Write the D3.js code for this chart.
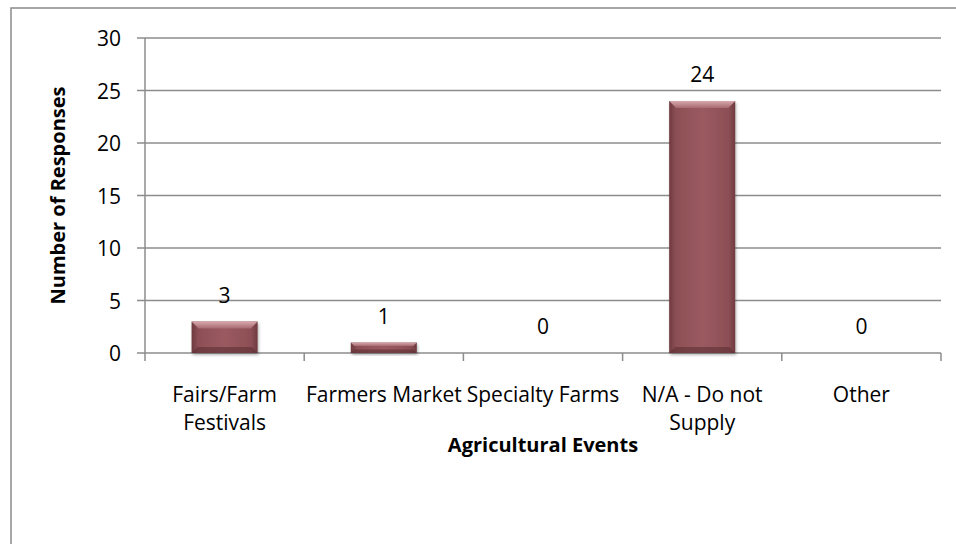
<!DOCTYPE html>
<html>
<head>
<meta charset="utf-8">
<script src="https://cdn.jsdelivr.net/npm/d3@7"></script>
<style>
  body { margin: 0; background: #fff; }
  svg { display: block; font-family: "Open Sans", sans-serif; }
</style>
</head>
<body>
<div id="container"></div>
<script>
/* DATA */
const categories = ["Fairs/Farm Festivals", "Farmers Market", "Specialty Farms", "N/A - Do not Supply", "Other"];
const labelLines = [["Fairs/Farm", "Festivals"], ["Farmers Market"], ["Specialty Farms"], ["N/A - Do not", "Supply"], ["Other"]];
const responses = [3, 1, 0, 24, 0];
const yTicks = [0, 5, 10, 15, 20, 25, 30];

/* CONSTANTS */
const width = 956, height = 544,
  margin = { top: 38, bottom: 191, left: 145, right: 15 };

const svg = d3.select("#container")
  .append("svg")
  .attr("width", width)
  .attr("height", height);

// outer chart frame (runs off the right / bottom edge)
svg.append("rect")
  .attr("x", 11).attr("y", 8)
  .attr("width", 960).attr("height", 560)
  .attr("fill", "none")
  .attr("stroke", "#8a8a8a")
  .attr("stroke-width", 1.5);

// SCALES
const x = d3.scaleBand()
  .domain(categories)
  .range([margin.left, width - margin.right])
  .paddingInner(0.585)
  .paddingOuter(0.2925);

const y = d3.scaleLinear()
  .domain([0, 30])
  .range([height - margin.bottom, margin.top]);

// gradients for the bevelled bars
const defs = svg.append("defs");
const body = defs.append("linearGradient").attr("id", "barBody")
  .attr("x1", 0).attr("x2", 1).attr("y1", 0).attr("y2", 0);
body.append("stop").attr("offset", "0%").attr("stop-color", "#6e3a3f");
body.append("stop").attr("offset", "10%").attr("stop-color", "#8c4f55");
body.append("stop").attr("offset", "50%").attr("stop-color", "#9b5a60");
body.append("stop").attr("offset", "90%").attr("stop-color", "#8c4f55");
body.append("stop").attr("offset", "100%").attr("stop-color", "#6e3a3f");

const topBevel = defs.append("linearGradient").attr("id", "topBevel")
  .attr("x1", 0).attr("x2", 0).attr("y1", 0).attr("y2", 1);
topBevel.append("stop").attr("offset", "0%").attr("stop-color", "#d6a8ac");
topBevel.append("stop").attr("offset", "100%").attr("stop-color", "#a86a70");

const shadow = defs.append("filter").attr("id", "shadow")
  .attr("x", "-20%").attr("y", "-20%").attr("width", "140%").attr("height", "140%");
shadow.append("feDropShadow")
  .attr("dx", 1).attr("dy", 2).attr("stdDeviation", 1.5)
  .attr("flood-color", "#000").attr("flood-opacity", 0.3);

// GRIDLINES
svg.append("g")
  .selectAll("line")
  .data(yTicks)
  .join("line")
  .attr("x1", margin.left - 8)
  .attr("x2", width - margin.right)
  .attr("y1", d => y(d))
  .attr("y2", d => y(d))
  .attr("stroke", "#8c8c8c")
  .attr("stroke-width", 1.5);

// Y AXIS LINE
svg.append("line")
  .attr("x1", margin.left).attr("x2", margin.left)
  .attr("y1", y(30)).attr("y2", y(0) + 8)
  .attr("stroke", "#8c8c8c").attr("stroke-width", 1.5);

// category tick marks at band boundaries
const bounds = categories.map(c => x(c) - x.step() * x.paddingInner() / 2);
bounds.push(width - margin.right);
svg.append("g")
  .selectAll("line")
  .data(bounds.slice(1))
  .join("line")
  .attr("x1", d => d).attr("x2", d => d)
  .attr("y1", y(0)).attr("y2", y(0) + 8)
  .attr("stroke", "#8c8c8c").attr("stroke-width", 1.5);

// Y TICK LABELS
svg.append("g")
  .selectAll("text")
  .data(yTicks)
  .join("text")
  .attr("x", 121)
  .attr("y", d => y(d) + 8)
  .attr("text-anchor", "end")
  .attr("font-size", 21)
  .attr("fill", "#000")
  .text(d => d);

// BARS
const bars = svg.append("g")
  .selectAll("g")
  .data(responses.map((v, i) => ({ cat: categories[i], v })))
  .join("g")
  .filter(d => d.v > 0);

bars.append("rect")
  .attr("x", d => x(d.cat))
  .attr("y", d => y(d.v))
  .attr("width", x.bandwidth())
  .attr("height", d => y(0) - y(d.v))
  .attr("fill", "url(#barBody)")
  .attr("filter", "url(#shadow)");

// top bevel highlight
bars.append("path")
  .attr("d", d => {
    const x0 = x(d.cat), x1 = x0 + x.bandwidth(), t = y(d.v);
    const b = Math.min(7, (y(0) - y(d.v)) / 3);
    return `M${x0},${t}L${x1},${t}L${x1 - b},${t + b}L${x0 + b},${t + b}Z`;
  })
  .attr("fill", "url(#topBevel)");

// bottom bevel shade
bars.append("path")
  .attr("d", d => {
    const x0 = x(d.cat), x1 = x0 + x.bandwidth(), bt = y(0);
    const b = Math.min(6, (y(0) - y(d.v)) / 3);
    return `M${x0},${bt}L${x1},${bt}L${x1 - b},${bt - b}L${x0 + b},${bt - b}Z`;
  })
  .attr("fill", "#5e3034")
  .attr("opacity", 0.6);

// VALUE LABELS
svg.append("g")
  .selectAll("text")
  .data(responses.map((v, i) => ({ cat: categories[i], v })))
  .join("text")
  .attr("x", d => x(d.cat) + x.bandwidth() / 2)
  .attr("y", d => y(d.v) - 19)
  .attr("text-anchor", "middle")
  .attr("font-size", 21)
  .attr("fill", "#000")
  .text(d => d.v);

// X TICK LABELS
svg.append("g")
  .selectAll("text")
  .data(categories.map((c, i) => ({ cat: c, lines: labelLines[i] })))
  .join("text")
  .attr("text-anchor", "middle")
  .attr("font-size", 21)
  .attr("fill", "#000")
  .each(function(d) {
    d3.select(this).selectAll("tspan")
      .data(d.lines)
      .join("tspan")
      .attr("x", x(d.cat) + x.bandwidth() / 2)
      .attr("y", (l, i) => 402 + i * 28)
      .text(l => l);
  });

// AXIS TITLES
svg.append("text")
  .attr("x", (margin.left + width - margin.right) / 2)
  .attr("y", 452)
  .attr("text-anchor", "middle")
  .attr("font-size", 20)
  .attr("font-weight", "bold")
  .text("Agricultural Events");

svg.append("text")
  .attr("transform", `translate(65, ${(y(0) + y(30)) / 2}) rotate(-90)`)
  .attr("text-anchor", "middle")
  .attr("font-size", 20)
  .attr("font-weight", "bold")
  .text("Number of Responses");
</script>
</body>
</html>
